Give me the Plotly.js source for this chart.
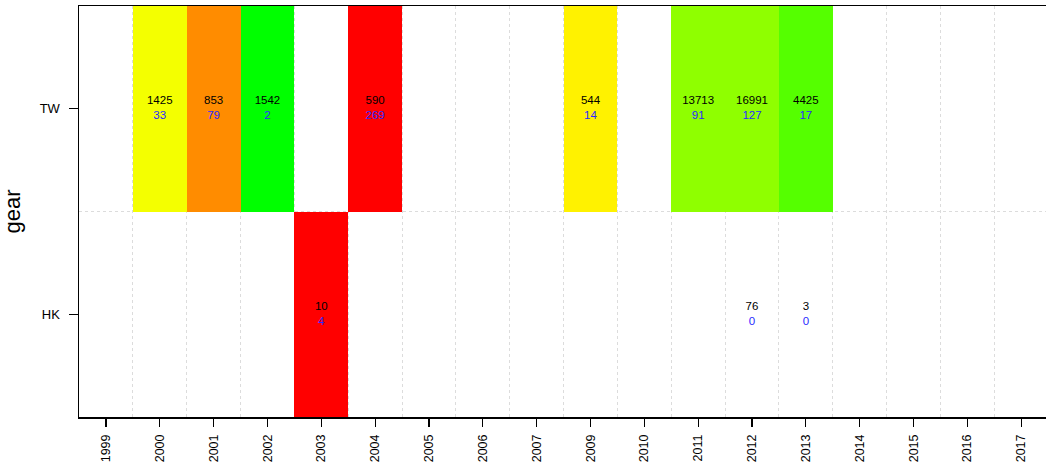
<!DOCTYPE html>
<html>
<head>
<meta charset="utf-8">
<script src="https://cdn.plot.ly/plotly-3.0.1.min.js"></script>
<style>html,body{margin:0;padding:0;background:#fff;}#chart{width:1046px;height:473px;}</style>
</head>
<body>
<div id="chart"></div>
<script>
// Categories
const years = ['1999','2000','2001','2002','2003','2004','2005','2006','2007','2009','2010','2011','2012','2013','2014','2015','2016','2017'];
const gears = ['HK','TW'];

// Cells (one entry per labelled cell)
const cellYear  = ['2000','2001','2002','2004','2009','2011','2012','2013','2003','2012','2013'];
const cellGear  = ['TW','TW','TW','TW','TW','TW','TW','TW','HK','HK','HK'];
const cellTop   = [1425, 853, 1542, 590, 544, 13713, 16991, 4425, 10, 76, 3];
const cellBot   = [33, 79, 2, 269, 14, 91, 127, 17, 4, 0, 0];
const cellColor = ['#F4FF00','#FF8C00','#00FF00','#FF0000','#FFF200','#8FFF00','#8FFF00','#55FF00','#FF0000',null,null];

// Build discrete colour index
const palette = [];
cellColor.forEach(c => { if (c && palette.indexOf(c) < 0) palette.push(c); });
const n = palette.length;
const colorscale = [];
palette.forEach((c, i) => {
  colorscale.push([i / n, c]);
  colorscale.push([(i + 1) / n, c]);
});

const z = gears.map(() => years.map(() => null));
cellYear.forEach((yr, k) => {
  if (!cellColor[k]) return;
  const xi = years.indexOf(yr), yi = gears.indexOf(cellGear[k]);
  z[yi][xi] = palette.indexOf(cellColor[k]) + 0.5;
});

const xIdx = years.map((_, i) => i);
const yIdx = gears.map((_, i) => i);

const heat = {
  type: 'heatmap', x: xIdx, y: yIdx, z: z,
  colorscale: colorscale, zmin: 0, zmax: n, showscale: false,
  hoverinfo: 'skip'
};

const labels = {
  type: 'scatter', mode: 'text',
  x: cellYear.map(y => years.indexOf(y)),
  y: cellGear.map(g => gears.indexOf(g)),
  text: cellTop.map((t, k) => t + '<br><span style="color:#2a2aff">' + cellBot[k] + '</span>'),
  textfont: {family: 'Liberation Sans, Arial, sans-serif', size: 11.5, color: '#000'},
  textposition: 'middle center',
  hoverinfo: 'skip', showlegend: false
};

const layout = {
  width: 1046, height: 473,
  margin: {l: 79, r: 0, t: 6, b: 56},
  paper_bgcolor: '#fff', plot_bgcolor: '#fff',
  font: {family: 'Liberation Sans, Arial, sans-serif', size: 12, color: '#000'},
  showlegend: false,
  xaxis: {
    range: [-0.5, 17.46], tickmode: 'array', tickvals: xIdx, ticktext: years,
    tickangle: -90, ticks: 'outside', ticklen: 8, tickwidth: 1.2, tickcolor: '#000',
    ticklabelstandoff: 3,
    showline: true, linecolor: '#000', linewidth: 1.5, mirror: true,
    showgrid: false, zeroline: false,
    tickfont: {size: 12.5},
    minor: {tick0: 0.5, dtick: 1, showgrid: true, gridcolor: '#dcdcdc', griddash: 'dot', gridwidth: 1, ticks: ''}
  },
  yaxis: {
    range: [-0.5, 1.5], tickmode: 'array', tickvals: yIdx, ticktext: gears,
    ticks: 'outside', ticklen: 9, tickwidth: 1.2, tickcolor: '#000',
    ticklabelstandoff: 6,
    showline: true, linecolor: '#000', linewidth: 1.5, mirror: false,
    showgrid: false, zeroline: false,
    tickfont: {size: 13},
    title: {text: 'gear', font: {size: 22}, standoff: 18},
    minor: {tick0: 0.5, dtick: 1, showgrid: true, gridcolor: '#dcdcdc', griddash: 'dot', gridwidth: 1, ticks: ''}
  }
};

Plotly.newPlot('chart', [heat, labels], layout, {displayModeBar: false, staticPlot: true});
</script>
</body>
</html>
